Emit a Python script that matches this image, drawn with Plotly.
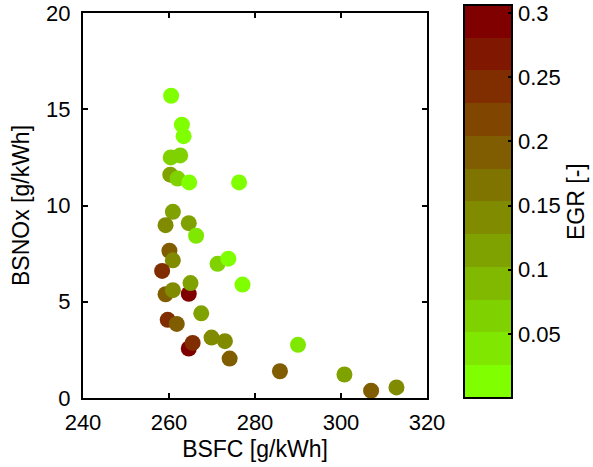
import plotly.graph_objects as go

# Engine test points: fuel consumption, NOx emission and EGR rate
bsfc = [260.5, 263.0, 263.4, 260.4, 262.6, 260.3, 262.0, 264.7, 276.3, 260.9,
        259.2, 264.6, 266.3, 260.1, 260.9, 271.3, 273.8, 258.4, 277.1, 264.6,
        265.0, 259.2, 260.9, 267.5, 259.7, 261.8, 269.9, 273.0, 264.6, 265.5,
        274.1, 285.8, 290.0, 300.8, 307.0, 312.9]
bsnox = [15.7, 14.2, 13.6, 12.5, 12.6, 11.6, 11.4, 11.2, 11.2, 9.67,
         8.98, 9.08, 8.43, 7.65, 7.15, 6.97, 7.24, 6.6, 5.89, 5.41,
         5.97, 5.39, 5.6, 4.4, 4.06, 3.85, 3.14, 2.95, 2.57, 2.86,
         2.05, 1.39, 2.76, 1.22, 0.38, 0.55]
egr = [0.01, 0.01, 0.02, 0.06, 0.06, 0.11, 0.07, 0.01, 0.01, 0.11,
       0.15, 0.11, 0.04, 0.19, 0.15, 0.06, 0.01, 0.24, 0.01, 0.30,
       0.11, 0.19, 0.14, 0.11, 0.24, 0.19, 0.15, 0.14, 0.29, 0.25,
       0.19, 0.19, 0.05, 0.11, 0.19, 0.15]

x_ticks = [240, 260, 280, 300, 320]
y_ticks = [0, 5, 10, 15, 20]
cbar_ticks = [0.05, 0.1, 0.15, 0.2, 0.25, 0.3]
cbar_labels = ["0.05", "0.1", "0.15", "0.2", "0.25", "0.3"]

# 12-step green -> olive -> dark red colormap
n_levels = 12
colorscale = []
for i in range(n_levels):
    g = round(255 * (n_levels - 1 - i) / (n_levels - 1))
    c = f"rgb(128,{g},0)"
    colorscale.append([i / n_levels, c])
    colorscale.append([(i + 1) / n_levels, c])

font = "Liberation Sans, Arial, sans-serif"
tick_font = dict(family=font, size=22, color="black")
title_font = dict(family=font, size=23, color="black")

fig = go.Figure(go.Scatter(
    x=bsfc, y=bsnox, mode="markers",
    marker=dict(
        size=16, color=egr, colorscale=colorscale, cmin=0.0, cmax=0.306,
        line=dict(width=0),
        colorbar=dict(
            x=1.1076, xanchor="left", xpad=0,
            y=0.51, yanchor="middle", ypad=0,
            len=393, lenmode="pixels", thickness=48,
            outlinewidth=2, outlinecolor="black",
            tickvals=cbar_ticks, ticktext=cbar_labels,
            ticks="inside", ticklen=5, tickwidth=1.5, tickcolor="black",
            tickfont=tick_font,
            title=dict(text="EGR [-]", side="right", font=title_font),
        ),
    ),
    showlegend=False,
))

axis_common = dict(
    showline=True, linewidth=2, linecolor="black", mirror="ticks",
    ticks="inside", ticklen=5, tickwidth=2, tickcolor="black",
    showgrid=False, zeroline=False, automargin=False,
    ticklabeloverflow="allow",
    tickfont=tick_font,
)

fig.update_xaxes(range=[240, 320], tickvals=x_ticks, ticklabelstandoff=4,
                 title=dict(text="BSFC [g/kWh]", standoff=6, font=title_font),
                 **axis_common)
fig.update_yaxes(range=[0, 20], tickvals=y_ticks, ticklabelstandoff=6,
                 title=dict(text="BSNOx [g/kWh]", standoff=10, font=title_font),
                 **axis_common)

fig.update_layout(
    width=593, height=467,
    margin=dict(l=83, r=166, t=13, b=69, autoexpand=False),
    plot_bgcolor="white", paper_bgcolor="white",
)

fig.write_html("out.html")
